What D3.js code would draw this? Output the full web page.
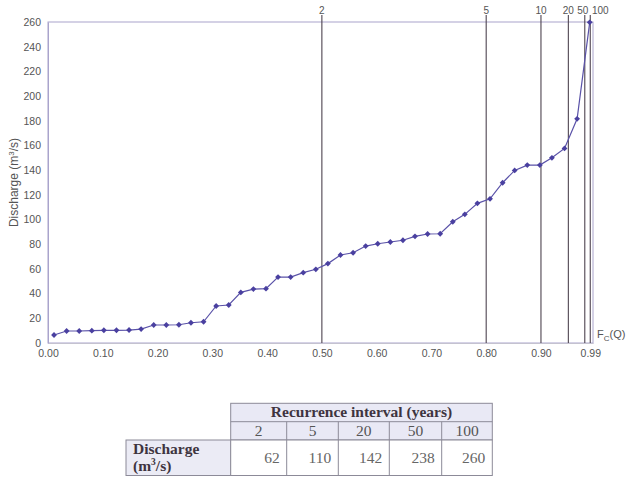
<!DOCTYPE html>
<html>
<head>
<meta charset="utf-8">
<script src="https://cdn.jsdelivr.net/npm/d3@7"></script>
<style>
  html, body { margin: 0; padding: 0; background: #fff; }
  svg { display: block; }
</style>
</head>
<body>
<svg id="chart" width="628" height="477"></svg>
<script>
// ---- data ----
const fcValues = [0.011, 0.034, 0.057, 0.080, 0.102, 0.125, 0.148, 0.170, 0.193, 0.216,
  0.239, 0.261, 0.284, 0.307, 0.330, 0.352, 0.375, 0.398, 0.420, 0.443,
  0.466, 0.489, 0.511, 0.534, 0.557, 0.580, 0.602, 0.625, 0.648, 0.670,
  0.693, 0.716, 0.739, 0.761, 0.784, 0.807, 0.830, 0.852, 0.875, 0.898,
  0.920, 0.943, 0.966, 0.989];
const discharge = [6.5, 9.7, 9.7, 10, 10.3, 10.3, 10.5, 11.3, 14.6, 14.6,
  14.8, 16.4, 17.2, 30, 30.8, 41, 43.7, 44, 53.4, 53.4,
  57, 59.7, 64.3, 71.3, 73.1, 78.5, 80.4, 81.8, 83.2, 86.4,
  88.3, 88.5, 98.2, 104.2, 113.1, 116.8, 129.8, 139.8, 144.1, 144.1,
  150, 157.6, 181.6, 259.7];
const returnPeriods = ["2", "5", "10", "20", "50", "100"];
const returnF = [0.5, 0.8, 0.9, 0.95, 0.98, 0.99];
const xTicks = [0, 0.1, 0.2, 0.3, 0.4, 0.5, 0.6, 0.7, 0.8, 0.9, 0.99];
const yTicks = [0, 20, 40, 60, 80, 100, 120, 140, 160, 180, 200, 220, 240, 260];
const tableYears = ["2", "5", "20", "50", "100"];
const tableDischarge = ["62", "110", "142", "238", "260"];

// ---- chart ----
const svg = d3.select("#chart");
const pLeft = 48, pRight = 593, pTop = 22, pBottom = 343;
const x = d3.scaleLinear().domain([0, 0.995]).range([pLeft, pRight]);
const y = d3.scaleLinear().domain([0, 260]).range([pBottom, pTop]);

const sans = "Liberation Sans, Arial, sans-serif";
const serif = "Liberation Serif, Times New Roman, serif";

// plot frame
svg.append("rect").attr("x", pLeft).attr("y", pTop)
  .attr("width", pRight - pLeft).attr("height", pBottom - pTop)
  .attr("fill", "none").attr("stroke", "#aaa4cc").attr("stroke-width", 1);

// x axis
const xAxis = d3.axisBottom(x).tickValues(xTicks).tickFormat(d3.format(".2f")).tickSize(0).tickPadding(7);
const gx = svg.append("g").attr("transform", `translate(0,${pBottom})`).call(xAxis);
gx.select(".domain").attr("stroke", "#c4c2d0");
gx.selectAll("text").attr("font-family", sans).attr("font-size", 10.5).attr("fill", "#555");

// y axis
const yAxis = d3.axisLeft(y).tickValues(yTicks).tickSize(0).tickPadding(7);
const gy = svg.append("g").attr("transform", `translate(${pLeft},0)`).call(yAxis);
gy.select(".domain").attr("stroke", "#aaa4cc");
gy.selectAll("text").attr("font-family", sans).attr("font-size", 10.5).attr("fill", "#555");

// y title
const yt = svg.append("text")
  .attr("transform", `translate(18,${(pTop + pBottom) / 2}) rotate(-90)`)
  .attr("text-anchor", "middle").attr("font-family", sans).attr("font-size", 12).attr("fill", "#555");
yt.append("tspan").text("Discharge (m");
yt.append("tspan").attr("font-size", 8).attr("dy", -4).text("3");
yt.append("tspan").attr("dy", 4).text("/s)");

// return period lines
svg.append("g").selectAll("line").data(returnF).join("line")
  .attr("x1", d => x(d)).attr("x2", d => x(d))
  .attr("y1", 15).attr("y2", pBottom)
  .attr("stroke", "#4e4450").attr("stroke-width", 1.1);

const labelShift = [0, 0, 0, 0, -2, 10];
svg.append("g").selectAll("text").data(returnPeriods).join("text")
  .attr("x", (d, i) => x(returnF[i]) + labelShift[i]).attr("y", 14)
  .attr("text-anchor", "middle").attr("font-family", sans).attr("font-size", 10).attr("fill", "#555")
  .text(d => d);

// data line
const pts = fcValues.map((f, i) => [f, discharge[i]]);
svg.append("path").datum(pts)
  .attr("fill", "none").attr("stroke", "#5a52a8").attr("stroke-width", 1.2)
  .attr("d", d3.line().x(d => x(d[0])).y(d => y(d[1])));

svg.append("g").selectAll("path").data(pts).join("path")
  .attr("transform", d => `translate(${x(d[0])},${y(d[1])}) rotate(45)`)
  .attr("d", d3.symbol().type(d3.symbolSquare).size(17))
  .attr("fill", "#4a40a0");

// F_c(Q)
const fq = svg.append("text").attr("x", 597).attr("y", 338)
  .attr("font-family", sans).attr("font-size", 11).attr("fill", "#555");
fq.append("tspan").text("F");
fq.append("tspan").attr("font-size", 8).attr("dy", 3).text("C");
fq.append("tspan").attr("dy", -3).text("(Q)");

// ---- table ----
const colX = [230.7, 286.7, 338.3, 389.3, 441.7, 492.3];
const r0 = 403.3, r1 = 421.7, r2 = 440, r3 = 475.5;
const tbl = svg.append("g");
const borderC = "#8c8a98";
tbl.append("rect").attr("x", colX[0]).attr("y", r0).attr("width", colX[5] - colX[0]).attr("height", r2 - r0)
  .attr("fill", "#e9e9f5").attr("stroke", borderC);
tbl.append("line").attr("x1", colX[0]).attr("x2", colX[5]).attr("y1", r1).attr("y2", r1).attr("stroke", borderC);
tbl.append("rect").attr("x", 126).attr("y", r2).attr("width", colX[0] - 126).attr("height", r3 - r2)
  .attr("fill", "#ebebf5").attr("stroke", borderC);
tbl.append("rect").attr("x", colX[0]).attr("y", r2).attr("width", colX[5] - colX[0]).attr("height", r3 - r2)
  .attr("fill", "#fff").attr("stroke", borderC);
tbl.selectAll("line.col").data(colX.slice(1, 5)).join("line").attr("class", "col")
  .attr("x1", d => d).attr("x2", d => d).attr("y1", r1).attr("y2", r3).attr("stroke", borderC);

tbl.append("text").attr("x", (colX[0] + colX[5]) / 2).attr("y", 417)
  .attr("text-anchor", "middle").attr("font-family", serif).attr("font-weight", "bold")
  .attr("font-size", 15.5).attr("fill", "#3e3440").text("Recurrence interval (years)");

tbl.selectAll("text.yr").data(tableYears).join("text").attr("class", "yr")
  .attr("x", (d, i) => (colX[i] + colX[i + 1]) / 2).attr("y", 436)
  .attr("text-anchor", "middle").attr("font-family", serif).attr("font-size", 15.5).attr("fill", "#555")
  .text(d => d);

tbl.selectAll("text.val").data(tableDischarge).join("text").attr("class", "val")
  .attr("x", (d, i) => colX[i + 1] - 7).attr("y", 463)
  .attr("text-anchor", "end").attr("font-family", serif).attr("font-size", 15.5).attr("fill", "#666")
  .text(d => d);

const lab = tbl.append("text").attr("font-family", serif).attr("font-weight", "bold")
  .attr("font-size", 15.5).attr("fill", "#3e3440");
lab.append("tspan").attr("x", 133).attr("y", 454).text("Discharge");
lab.append("tspan").attr("x", 133).attr("y", 471).text("(m");
lab.append("tspan").attr("font-size", 9.5).attr("dy", -6).text("3");
lab.append("tspan").attr("dy", 6).text("/s)");
</script>
</body>
</html>
